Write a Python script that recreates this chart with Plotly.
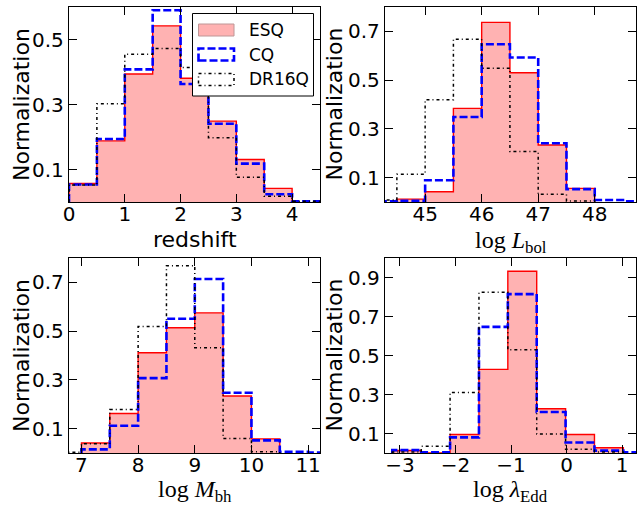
import plotly.graph_objects as go

W, H = 637, 506

# ---------------- data ----------------
z_start, z_width = 0.0, 0.5
z_esq = [0.057, 0.188, 0.394, 0.542, 0.381, 0.249, 0.131, 0.042]
z_cq = [0.054, 0.194, 0.408, 0.590, 0.363, 0.241, 0.118, 0.024, 0.002]
z_dr16q = [0.052, 0.302, 0.455, 0.472, 0.414, 0.198, 0.076, 0.018, 0.002]

lbol_start, lbol_width = 44.0, 0.5
lbol_esq = [0.0, 0.012, 0.042, 0.384, 0.737, 0.530, 0.234, 0.056]
lbol_cq = [0.003, 0.005, 0.089, 0.349, 0.647, 0.593, 0.241, 0.053, 0.008, 0.003]
lbol_dr16q = [0.008, 0.114, 0.419, 0.668, 0.549, 0.207, 0.032, 0.004]

mbh_start, mbh_width = 6.5, 0.5
mbh_esq = [0.0, 0.041, 0.162, 0.411, 0.514, 0.575, 0.234, 0.058]
mbh_cq = [0.0, 0.015, 0.112, 0.307, 0.551, 0.714, 0.247, 0.052, 0.005, 0.002]
mbh_dr16q = [0.003, 0.038, 0.178, 0.519, 0.768, 0.432, 0.060, 0.005]

ledd_start, ledd_width = -3.138, 0.52
ledd_esq = [0.013, 0.0, 0.095, 0.429, 0.932, 0.227, 0.095, 0.027]
ledd_cq = [0.015, 0.003, 0.080, 0.647, 0.815, 0.210, 0.054, 0.012, 0.003]
ledd_dr16q = [0.005, 0.034, 0.310, 0.824, 0.530, 0.097, 0.019, 0.005]

series_names = ["ESQ", "CQ", "DR16Q"]

z_xticks = [0, 1, 2, 3, 4]
lbol_xticks = [45, 46, 47, 48]
mbh_xticks = [7, 8, 9, 10, 11]
ledd_xticks = [-3, -2, -1, 0, 1]
z_yticks = [0.1, 0.3, 0.5]
lbol_yticks = [0.1, 0.3, 0.5, 0.7]
mbh_yticks = [0.1, 0.3, 0.5, 0.7]
ledd_yticks = [0.1, 0.3, 0.5, 0.7, 0.9]

x_labels = ["redshift", "log <i>L</i><sub>bol</sub>",
            "log <i>M</i><sub>bh</sub>", "log <i>λ</i><sub>Edd</sub>"]
y_label = "Normalization"

# ---------------- helpers ----------------
def step_xy(start, width, vals):
    # trim leading / trailing empty bins
    i0 = 0
    while i0 < len(vals) and vals[i0] == 0:
        i0 += 1
    i1 = len(vals)
    while i1 > i0 and vals[i1 - 1] == 0:
        i1 -= 1
    xs = [start + i0 * width]
    ys = [0]
    for i in range(i0, i1):
        xs += [start + i * width, start + (i + 1) * width]
        ys += [vals[i], vals[i]]
    xs.append(start + i1 * width)
    ys.append(0)
    return xs, ys

def px_x(p):
    return p / W

def px_y(p):
    return 1 - p / H

panels = [
    dict(start=z_start, width=z_width, data=[z_esq, z_cq, z_dr16q],
         xr=[0, 4.5], yr=[0, 0.6], xt=z_xticks, yt=z_yticks,
         box=(69, 320, 7, 202)),
    dict(start=lbol_start, width=lbol_width, data=[lbol_esq, lbol_cq, lbol_dr16q],
         xr=[44.29, 48.73], yr=[0, 0.8], xt=lbol_xticks, yt=lbol_yticks,
         box=(385, 636, 7, 202)),
    dict(start=mbh_start, width=mbh_width, data=[mbh_esq, mbh_cq, mbh_dr16q],
         xr=[6.78, 11.21], yr=[0, 0.8], xt=mbh_xticks, yt=mbh_yticks,
         box=(69, 320, 258, 453)),
    dict(start=ledd_start, width=ledd_width, data=[ledd_esq, ledd_cq, ledd_dr16q],
         xr=[-3.27, 1.25], yr=[0, 1.0], xt=ledd_xticks, yt=ledd_yticks,
         box=(385, 636, 258, 453)),
]

fig = go.Figure()
layout = dict(
    template="none",
    width=W, height=H, margin=dict(l=0, r=0, t=0, b=0, pad=0),
    paper_bgcolor="white", plot_bgcolor="white", showlegend=False,
    font=dict(family="DejaVu Sans", size=20, color="black"),
)

annotations = []
shapes = []
tick_font = dict(family="DejaVu Sans", size=20, color="black")

for k, p in enumerate(panels):
    n = "" if k == 0 else str(k + 1)
    xa, ya = "x" + n, "y" + n
    esq, cq, dr = p["data"]
    xs, ys = step_xy(p["start"], p["width"], esq)
    fig.add_trace(go.Scatter(x=xs, y=ys, xaxis=xa, yaxis=ya, mode="lines",
                             fill="toself", fillcolor="rgba(255,0,0,0.3)",
                             line=dict(color="red", width=1.4), name="ESQ",
                             hoverinfo="skip"))
    xs, ys = step_xy(p["start"], p["width"], cq)
    fig.add_trace(go.Scatter(x=xs, y=ys, xaxis=xa, yaxis=ya, mode="lines",
                             line=dict(color="blue", width=2.6, dash="8px,3px"),
                             name="CQ", hoverinfo="skip"))
    xs, ys = step_xy(p["start"], p["width"], dr)
    fig.add_trace(go.Scatter(x=xs, y=ys, xaxis=xa, yaxis=ya, mode="lines",
                             line=dict(color="black", width=1.5, dash="3px,3px,1px,3px"),
                             name="DR16Q", hoverinfo="skip"))

    x0, x1, y0, y1 = p["box"]
    axcommon = dict(showline=True, linecolor="black", linewidth=1.3, mirror="ticks",
                    ticks="inside", ticklen=8, tickwidth=1, tickcolor="black",
                    showgrid=False, zeroline=False, tickfont=tick_font,
                    fixedrange=True, automargin=False)
    layout["xaxis" + n] = dict(axcommon, domain=[px_x(x0), px_x(x1)], range=p["xr"],
                               tickvals=p["xt"], anchor=ya, ticklabelstandoff=-6)
    layout["yaxis" + n] = dict(axcommon, domain=[px_y(y1), px_y(y0)], range=p["yr"],
                               tickvals=p["yt"], anchor=xa)

    # axis titles
    cx = (x0 + x1) / 2
    if k == 0:
        annotations.append(dict(text=x_labels[k], x=px_x(cx), y=px_y(240),
                                xref="paper", yref="paper", showarrow=False,
                                xanchor="center", yanchor="middle",
                                font=dict(family="DejaVu Sans", size=22)))
    else:
        yl = 242 if y0 < 250 else 491
        annotations.append(dict(text=x_labels[k], x=px_x(cx), y=px_y(yl),
                                xref="paper", yref="paper", showarrow=False,
                                xanchor="center", yanchor="middle",
                                font=dict(family="Liberation Serif", size=24)))
    lx = 21.5 if x0 < 200 else 334
    annotations.append(dict(text=y_label, x=px_x(lx), y=px_y((y0 + y1) / 2),
                            xref="paper", yref="paper", showarrow=False,
                            textangle=-90, xanchor="center", yanchor="middle",
                            font=dict(family="DejaVu Sans", size=22)))

# ---------------- legend (drawn in panel 1) ----------------
shapes.append(dict(type="rect", xref="paper", yref="paper",
                   x0=px_x(192.5), x1=px_x(313.5), y0=px_y(96), y1=px_y(13.5),
                   fillcolor="white", line=dict(color="black", width=1), layer="above"))
handle_styles = [
    dict(fillcolor="rgba(255,0,0,0.3)", line=dict(color="rgba(190,150,150,1)", width=1)),
    dict(fillcolor="rgba(0,0,0,0)", line=dict(color="blue", width=2.6, dash="8px,3px")),
    dict(fillcolor="rgba(0,0,0,0)", line=dict(color="black", width=1.5, dash="3px,3px,1px,3px")),
]
row_y = [30, 54.5, 79.5]
for name, st, ry in zip(series_names, handle_styles, row_y):
    shapes.append(dict(type="rect", xref="paper", yref="paper",
                       x0=px_x(198.5), x1=px_x(234), y0=px_y(ry + 6), y1=px_y(ry - 6),
                       layer="above", **st))
    annotations.append(dict(text=name, x=px_x(247), y=px_y(ry), xref="paper", yref="paper",
                            showarrow=False, xanchor="left", yanchor="middle",
                            font=dict(family="DejaVu Sans", size=17)))

layout["annotations"] = annotations
layout["shapes"] = shapes
fig.update_layout(**layout)
fig.write_html("out.html")
